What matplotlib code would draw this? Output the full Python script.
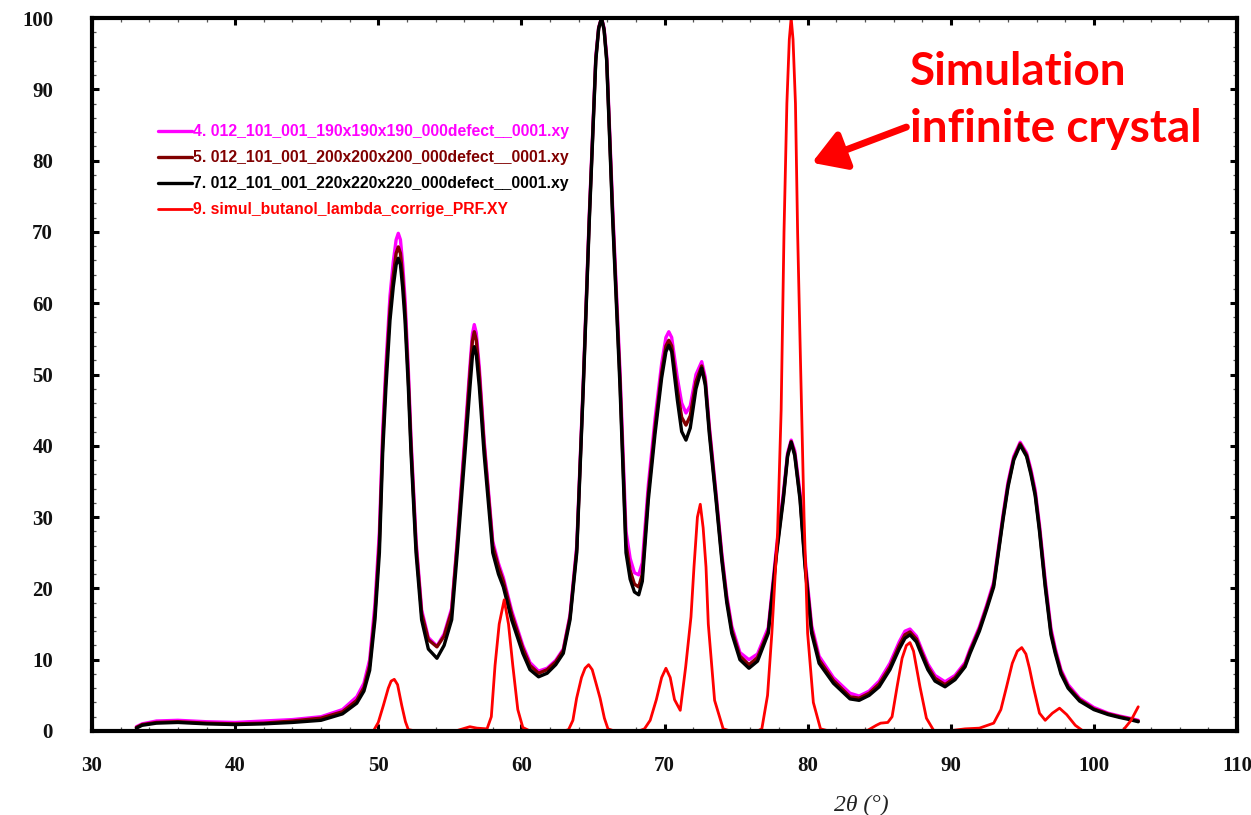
import matplotlib
matplotlib.use("Agg")
import matplotlib.pyplot as plt
from matplotlib.ticker import MultipleLocator

# 2-theta grid shared by the three finite-crystal patterns
two_theta = [33.1, 33.5, 34.5, 36.0, 38.0, 40.0, 42.0, 44.0, 46.0, 47.5,
             48.5, 49.0, 49.4, 49.77, 50.08, 50.31, 50.54, 50.82, 51.05, 51.25,
             51.4, 51.55, 51.7, 51.87, 52.1, 52.29, 52.64, 53.03, 53.5, 54.1,
             54.6, 55.13, 55.52, 56.06, 56.41, 56.58, 56.71, 56.85, 57.06, 57.39,
             58.0, 58.4, 58.74, 59.32, 60.1, 60.6, 61.2, 61.8, 62.4, 62.93,
             63.4, 63.87, 64.33, 64.75, 65.2, 65.4, 65.6, 65.78, 65.96, 66.38,
             66.89, 67.31, 67.6, 67.9, 68.2, 68.45, 68.87, 69.34, 69.8, 70.1,
             70.3, 70.5, 70.9, 71.2, 71.5, 71.8, 72.2, 72.6, 72.85, 73.13,
             73.6, 74.0, 74.35, 74.7, 75.27, 75.9, 76.5, 77.25, 77.84, 78.3,
             78.6, 78.85, 79.1, 79.47, 79.82, 80.28, 80.8, 81.8, 82.96, 83.6,
             84.3, 85.0, 85.75, 86.4, 86.8, 87.15, 87.6, 88.0, 88.4, 88.9,
             89.6, 90.3, 91.0, 91.35, 92.0, 92.5, 93.0, 93.65, 94.0, 94.4,
             94.85, 95.3, 95.6, 95.9, 96.2, 96.6, 97.0, 97.3, 97.7, 98.2,
             99.0, 100.0, 101.0, 101.8, 102.5, 103.1]

# 190x190x190 crystallite
int_190 = [0.6, 1.0, 1.4, 1.5, 1.3, 1.2, 1.4, 1.6, 2.0, 3.0,
           4.8, 6.7, 10.0, 17.8, 28.0, 42.0, 51.5, 61.0, 65.8, 68.9,
           69.8, 68.9, 65.7, 60.6, 50.8, 41.0, 26.8, 17.0, 13.1, 11.9,
           13.6, 17.2, 26.8, 41.5, 51.3, 55.7, 57.0, 55.8, 51.0, 41.0,
           26.6, 23.5, 21.5, 16.9, 12.0, 9.6, 8.4, 8.8, 9.9, 11.5,
           16.3, 26.0, 49.3, 72.7, 94.6, 98.7, 100.0, 98.6, 94.7, 73.3,
           50.5, 28.0, 24.2, 22.2, 21.9, 23.6, 34.5, 43.8, 51.5, 55.2,
           56.0, 55.2, 49.5, 46.0, 44.6, 45.6, 50.0, 51.8, 49.6, 42.8,
           33.4, 25.0, 19.0, 14.7, 11.0, 10.0, 10.8, 14.5, 26.0, 33.3,
           39.0, 40.8, 39.3, 33.4, 24.2, 14.8, 10.5, 7.5, 5.3, 4.9,
           5.6, 7.0, 9.5, 12.5, 14.0, 14.3, 13.3, 11.3, 9.4, 7.8,
           6.9, 7.8, 9.6, 11.5, 14.6, 17.6, 20.9, 30.3, 34.9, 38.5,
           40.5, 39.0, 36.7, 33.8, 28.9, 21.2, 14.4, 11.6, 8.6, 6.5,
           4.6, 3.3, 2.5, 2.1, 1.8, 1.5]

# 200x200x200 crystallite
int_200 = [0.5, 0.9, 1.2, 1.3, 1.1, 1.0, 1.1, 1.4, 1.8, 2.7,
           4.3, 6.1, 9.2, 16.5, 26.5, 40.5, 50.0, 59.2, 63.9, 67.0,
           67.9, 67.0, 63.9, 59.0, 49.5, 40.0, 26.0, 16.5, 12.8, 11.8,
           13.3, 16.8, 26.2, 40.5, 50.3, 54.7, 56.0, 54.8, 50.0, 40.3,
           26.0, 23.0, 21.0, 16.4, 11.6, 9.2, 8.1, 8.6, 9.7, 11.3,
           16.0, 25.5, 48.8, 72.2, 94.3, 98.6, 100.0, 98.4, 94.3, 72.4,
           49.3, 26.2, 22.5, 20.6, 20.2, 22.0, 33.3, 42.6, 50.3, 54.0,
           54.8, 54.0, 47.8, 44.0, 42.9, 44.2, 49.0, 51.2, 49.0, 42.3,
           32.9, 24.5, 18.5, 14.2, 10.5, 9.3, 10.3, 14.0, 25.4, 32.8,
           38.7, 40.6, 38.9, 32.8, 23.5, 14.2, 10.0, 7.1, 4.8, 4.6,
           5.3, 6.6, 9.0, 12.0, 13.5, 13.9, 12.9, 10.9, 9.0, 7.4,
           6.5, 7.5, 9.3, 11.2, 14.3, 17.3, 20.5, 29.9, 34.5, 38.2,
           40.3, 38.7, 36.3, 33.3, 28.4, 20.6, 13.9, 11.2, 8.3, 6.2,
           4.4, 3.1, 2.4, 2.0, 1.7, 1.4]

# 220x220x220 crystallite
int_220 = [0.4, 0.8, 1.1, 1.2, 1.0, 0.9, 1.0, 1.2, 1.5, 2.4,
           3.9, 5.6, 8.5, 15.6, 25.0, 39.0, 48.3, 57.6, 62.3, 65.4,
           66.3, 65.4, 62.3, 57.6, 48.3, 39.0, 25.0, 15.6, 11.5, 10.2,
           12.0, 15.6, 25.0, 39.0, 48.3, 52.6, 53.9, 52.8, 48.3, 39.0,
           25.0, 22.0, 20.2, 15.6, 10.9, 8.6, 7.6, 8.1, 9.3, 10.9,
           15.6, 25.0, 48.3, 71.7, 94.0, 98.5, 100.0, 98.3, 94.0, 71.7,
           48.3, 25.0, 21.3, 19.5, 19.1, 21.0, 32.4, 41.7, 49.5, 53.2,
           54.1, 53.2, 46.4, 42.0, 40.8, 42.5, 48.0, 50.9, 48.5, 41.7,
           32.4, 24.0, 18.0, 13.7, 10.0, 8.8, 9.8, 13.7, 25.0, 32.4,
           38.5, 40.5, 38.6, 32.4, 23.0, 13.7, 9.5, 6.7, 4.5, 4.3,
           5.0, 6.2, 8.6, 11.5, 13.0, 13.5, 12.5, 10.5, 8.6, 7.0,
           6.2, 7.2, 9.0, 10.9, 14.0, 17.0, 20.2, 29.6, 34.2, 38.0,
           40.1, 38.5, 36.0, 33.0, 28.0, 20.2, 13.5, 10.9, 8.0, 6.0,
           4.2, 3.0, 2.3, 1.9, 1.6, 1.3]

# Simulated pattern of the infinite crystal
two_theta_sim = [49.0, 49.66, 50.0, 50.36, 50.7, 50.9, 51.12, 51.35, 51.64, 51.9,
                 52.1, 52.6, 55.4, 55.9, 56.4, 56.9, 57.6, 57.9, 58.16, 58.45,
                 58.8, 59.1, 59.4, 59.75, 60.1, 60.6, 63.0, 63.3, 63.6, 63.86,
                 64.2, 64.45, 64.7, 64.95, 65.2, 65.5, 65.8, 66.05, 66.5, 68.2,
                 68.6, 69.0, 69.43, 69.8, 70.1, 70.4, 70.7, 71.1, 71.48, 71.85,
                 72.06, 72.3, 72.5, 72.7, 72.9, 73.06, 73.5, 74.1, 74.6, 76.5,
                 76.8, 77.2, 77.5, 77.9, 78.15, 78.35, 78.55, 78.72, 78.85, 78.98,
                 79.15, 79.3, 79.5, 79.75, 80.0, 80.4, 80.9, 81.5, 84.2, 84.8,
                 85.1, 85.6, 85.9, 86.25, 86.6, 86.9, 87.15, 87.4, 87.85, 88.3,
                 88.8, 89.5, 90.2, 91.0, 92.0, 93.0, 93.5, 93.9, 94.3, 94.65,
                 94.96, 95.25, 95.5, 95.77, 96.2, 96.6, 97.1, 97.6, 98.1, 98.7,
                 99.25, 100.0, 102.0, 102.6, 103.1]
int_sim = [0.0, 0.0, 1.2, 3.6, 6.0, 7.0, 7.25, 6.5, 3.6, 1.3,
           0.2, 0.0, 0.0, 0.3, 0.6, 0.4, 0.3, 2.0, 9.2, 15.0,
           18.4, 15.0, 9.2, 3.0, 0.5, 0.0, 0.0, 0.2, 1.5, 4.6,
           7.5, 8.8, 9.3, 8.6, 6.8, 4.6, 1.8, 0.3, 0.0, 0.0,
           0.3, 1.5, 4.4, 7.5, 8.8, 7.5, 4.4, 2.9, 9.0, 16.0,
           23.0, 30.0, 31.8, 28.5, 23.0, 15.0, 4.3, 0.3, 0.0, 0.0,
           0.3, 5.0, 13.7, 27.8, 45.0, 70.0, 88.0, 97.0, 100.0, 97.0,
           88.0, 70.0, 52.0, 30.0, 13.7, 4.0, 0.3, 0.0, 0.1, 0.8,
           1.1, 1.2, 2.0, 6.2, 10.2, 12.0, 12.4, 11.2, 6.2, 1.8,
           0.1, 0.0, 0.1, 0.3, 0.4, 1.1, 3.0, 6.2, 9.5, 11.2,
           11.7, 10.8, 8.8, 6.2, 2.5, 1.5, 2.5, 3.2, 2.3, 0.8,
           0.0, 0.0, 0.0, 1.5, 3.4]

labels = ["4. 012_101_001_190x190x190_000defect__0001.xy",
          "5. 012_101_001_200x200x200_000defect__0001.xy",
          "7. 012_101_001_220x220x220_000defect__0001.xy",
          "9. simul_butanol_lambda_corrige_PRF.XY"]
colors = ["#FF00FF", "#800000", "#000000", "#FF0000"]

fig = plt.figure(figsize=(12.51, 8.15), dpi=100)
ax = fig.add_axes([92 / 1251, 1 - 731 / 815, 1145 / 1251, 713 / 815])

lines = []
for y, c, lab in zip([int_190, int_200, int_220], colors[:3], labels[:3]):
    ln, = ax.plot(two_theta, y, color=c, lw=2.4, label=lab,
                  solid_joinstyle="round", solid_capstyle="round")
    lines.append(ln)
ln, = ax.plot(two_theta_sim, int_sim, color=colors[3], lw=2.0, label=labels[3],
              solid_joinstyle="round", solid_capstyle="round")
lines.append(ln)

ax.set_xlim(30, 110)
ax.set_ylim(0, 100)
ax.xaxis.set_major_locator(MultipleLocator(10))
ax.xaxis.set_minor_locator(MultipleLocator(2))
ax.yaxis.set_major_locator(MultipleLocator(10))
ax.yaxis.set_minor_locator(MultipleLocator(2))

for s in ax.spines.values():
    s.set_linewidth(3.0)

ax.tick_params(which="both", direction="in", top=True, right=True)
ax.tick_params(which="major", length=5, width=2.2, color="black")
ax.tick_params(which="minor", length=3.2, width=0.9, color="#555555")
ax.tick_params(axis="y", which="major", pad=28)
ax.tick_params(axis="x", which="major", pad=18)

tick_font = dict(family="Liberation Serif", weight="bold", size=15)
for lab in ax.get_xticklabels() + ax.get_yticklabels():
    lab.set_fontproperties(tick_font)
    lab.set_color("#111111")

ax.set_xlabel("2θ (°)", fontfamily="Liberation Serif", fontstyle="italic",
              fontsize=17, color="#222222")
ax.xaxis.set_label_coords(0.672, -0.09)

leg = ax.legend(handles=lines, loc="upper left",
                bbox_to_anchor=(0.0576, 0.851), frameon=False,
                prop=dict(family="Liberation Sans", weight="bold", size=11.3),
                handlelength=2.15, handletextpad=0.1, labelspacing=0.7,
                borderpad=0, borderaxespad=0, labelcolor="linecolor")

ax.text(87.15, 88.4, "Simulation\ninfinite crystal", color="#FF0000",
        fontfamily="Lato", fontweight="bold", fontsize=33,
        ha="left", va="center", linespacing=1.45)
ax.annotate("", xy=(80.3, 79.7), xytext=(86.9, 84.7),
            arrowprops=dict(arrowstyle="-|>,head_length=0.9,head_width=0.55",
                            color="#FF0000", lw=5, mutation_scale=22,
                            shrinkA=0, shrinkB=0))

fig.savefig("out.png", dpi=100)
